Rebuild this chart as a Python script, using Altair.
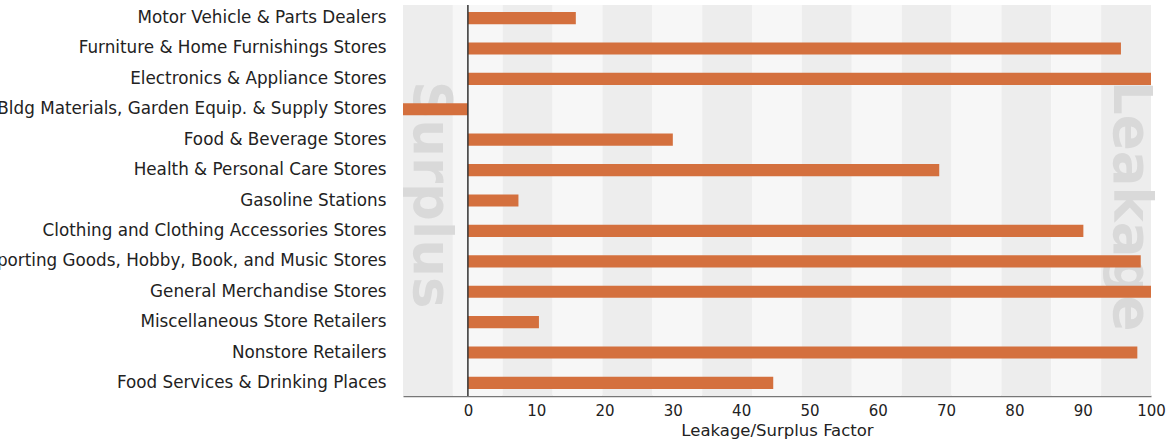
import altair as alt
import pandas as pd
import numpy as np

categories = [
    "Motor Vehicle & Parts Dealers",
    "Furniture & Home Furnishings Stores",
    "Electronics & Appliance Stores",
    "Bldg Materials, Garden Equip. & Supply Stores",
    "Food & Beverage Stores",
    "Health & Personal Care Stores",
    "Gasoline Stations",
    "Clothing and Clothing Accessories Stores",
    "Sporting Goods, Hobby, Book, and Music Stores",
    "General Merchandise Stores",
    "Miscellaneous Store Retailers",
    "Nonstore Retailers",
    "Food Services & Drinking Places",
]
values = [15.8, 95.6, 100.0, -9.5, 30.0, 69.0, 7.4, 90.1, 98.5, 100.0, 10.4, 98.0, 44.7]
x_ticks = [0, 10, 20, 30, 40, 50, 60, 70, 80, 90, 100]
x_min, x_max = -9.5, 100
annot_labels = ["Surplus", "Leakage"]
annot_x = [-5.6, 96.9]
n_bands = 15

df = pd.DataFrame({"category": categories, "value": values})
edges = np.linspace(x_min, x_max, n_bands + 1)
bands = pd.DataFrame({
    "x0": edges[:-1],
    "x1": edges[1:],
    "shade": ["dark" if i % 2 == 0 else "light" for i in range(n_bands)],
})
annot = pd.DataFrame({"label": annot_labels, "x": annot_x})
zero = pd.DataFrame({"zero": [0]})

FONT = "DejaVu Sans"
xscale = alt.Scale(domain=[x_min, x_max], nice=False, zero=False)

band_layer = alt.Chart(bands).mark_rect().encode(
    x=alt.X("x0:Q", scale=xscale,
            axis=alt.Axis(values=x_ticks, title="Leakage/Surplus Factor")),
    x2="x1:Q",
    color=alt.Color("shade:N", scale=alt.Scale(domain=["dark", "light"],
                                                range=["#ededed", "#f7f7f7"]),
                    legend=None),
)

text_layer = alt.Chart(annot).mark_text(
    angle=90, align="left", baseline="middle", fontSize=53,
    fontWeight="bold", color="#d9d9d9", font=FONT,
).encode(
    x=alt.X("x:Q", scale=xscale),
    y=alt.value(76),
    text="label:N",
)

bar_layer = alt.Chart(df).mark_bar(color="#d4703e").encode(
    x=alt.X("value:Q", scale=xscale),
    y=alt.Y("category:N", sort=categories,
            scale=alt.Scale(paddingInner=0.6, paddingOuter=0.23),
            axis=alt.Axis(title=None, ticks=False, domain=False,
                          labelFontSize=16.8, labelPadding=17, labelLimit=1000,
                          labelColor="#222", labelFont=FONT)),
)

zero_layer = alt.Chart(zero).mark_rule(color="#333", strokeWidth=1.5).encode(
    x=alt.X("zero:Q", scale=xscale)
)

chart = alt.layer(band_layer, text_layer, bar_layer, zero_layer).properties(
    width=748, height=391,
    autosize=alt.AutoSizeParams(type="none"),
    padding={"left": 403, "top": 5, "right": 17, "bottom": 49},
).configure_view(stroke=None).configure_axisX(
    grid=False, domainColor="#777", domainWidth=1.5, tickSize=0,
    ticks=False, labelFlush=False, labelFontSize=15, labelColor="#222",
    labelFont=FONT, labelPadding=7, titleFont=FONT, titleFontSize=16.5,
    titleFontWeight="normal", titleColor="#222", titlePadding=4,
)

chart.save("out.html", embed_options={"renderer": "svg", "actions": False})
